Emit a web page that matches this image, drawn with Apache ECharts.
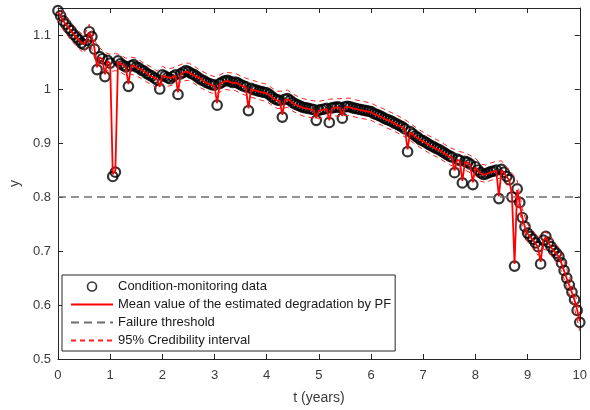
<!DOCTYPE html>
<html>
<head>
<meta charset="utf-8">
<script src="https://cdn.jsdelivr.net/npm/echarts@6/dist/echarts.min.js"></script>
<style>html,body{margin:0;padding:0;background:#fff;}#c{width:590px;height:410px;}</style>
</head>
<body>
<div id="c"></div>
<script>
// Condition-monitoring data, sampled every 0.05 years from t = 0 to t = 10
const tStep = 0.05;
const monitorY = [
1.145,1.136,1.126,1.120,1.113,1.108,1.101,1.096,1.091,1.085,
1.082,1.090,1.106,1.097,1.074,1.036,1.060,1.056,1.023,1.053,
1.048,0.838,0.846,1.052,1.047,1.044,1.041,1.005,1.043,1.045,
1.041,1.039,1.035,1.033,1.029,1.026,1.024,1.020,1.017,1.000,
1.026,1.024,1.021,1.019,1.023,1.026,0.990,1.028,1.031,1.034,
1.032,1.029,1.027,1.024,1.020,1.017,1.015,1.012,1.010,1.008,
1.007,0.970,1.010,1.013,1.015,1.016,1.014,1.012,1.013,1.011,
1.008,1.006,1.004,0.960,1.001,0.999,0.998,0.996,0.995,0.994,
0.993,0.990,0.986,0.982,0.980,0.979,0.948,0.981,0.982,0.979,
0.975,0.972,0.970,0.968,0.966,0.965,0.964,0.963,0.962,0.942,
0.961,0.962,0.963,0.964,0.938,0.965,0.966,0.967,0.966,0.946,
0.967,0.968,0.967,0.965,0.964,0.963,0.962,0.961,0.960,0.959,
0.958,0.955,0.953,0.951,0.949,0.946,0.944,0.942,0.940,0.937,
0.935,0.932,0.930,0.926,0.884,0.921,0.917,0.913,0.910,0.906,
0.904,0.901,0.898,0.895,0.893,0.890,0.888,0.885,0.882,0.879,
0.876,0.874,0.845,0.870,0.868,0.826,0.866,0.864,0.861,0.823,
0.856,0.850,0.845,0.842,0.843,0.845,0.847,0.848,0.850,0.797,
0.851,0.846,0.838,0.832,0.800,0.672,0.815,0.790,0.762,0.745,
0.733,0.727,0.722,0.715,0.708,0.676,0.720,0.727,0.716,0.708,
0.701,0.696,0.690,0.678,0.664,0.650,0.637,0.624,0.610,0.590,
0.568
];
// Mean of the PF estimate, same 0.05-year grid
const meanY = [
1.143,1.135,1.127,1.119,1.114,1.107,1.102,1.095,1.091,1.086,
1.083,1.091,1.104,1.096,1.075,1.040,1.059,1.055,1.027,1.052,
1.047,0.842,0.849,1.051,1.046,1.045,1.040,1.009,1.042,1.044,
1.040,1.038,1.036,1.032,1.030,1.025,1.023,1.021,1.018,1.004,
1.025,1.023,1.022,1.020,1.022,1.025,0.994,1.027,1.030,1.033,
1.031,1.028,1.026,1.023,1.021,1.018,1.014,1.011,1.009,1.007,
1.006,0.974,1.009,1.012,1.014,1.015,1.013,1.011,1.012,1.010,
1.007,1.005,1.003,0.964,1.000,0.998,0.997,0.995,0.994,0.993,
0.992,0.989,0.985,0.981,0.979,0.978,0.952,0.980,0.981,0.978,
0.974,0.971,0.969,0.967,0.965,0.964,0.963,0.962,0.961,0.946,
0.960,0.961,0.962,0.963,0.942,0.964,0.965,0.966,0.965,0.950,
0.966,0.967,0.966,0.964,0.963,0.962,0.961,0.960,0.959,0.958,
0.957,0.954,0.952,0.950,0.948,0.945,0.943,0.941,0.939,0.936,
0.934,0.931,0.929,0.925,0.888,0.920,0.916,0.912,0.909,0.905,
0.903,0.900,0.897,0.894,0.892,0.889,0.887,0.884,0.881,0.878,
0.875,0.873,0.849,0.869,0.867,0.830,0.865,0.863,0.860,0.827,
0.855,0.849,0.844,0.841,0.842,0.844,0.846,0.847,0.849,0.801,
0.850,0.845,0.837,0.831,0.804,0.676,0.813,0.788,0.761,0.744,
0.732,0.726,0.721,0.714,0.707,0.680,0.719,0.726,0.715,0.707,
0.700,0.695,0.689,0.677,0.663,0.649,0.636,0.623,0.609,0.591,
0.570
];
// 95% credibility interval bounds, sampled every 0.1 years
const ciStep = 0.1;
const ciUpper = [
1.161,1.142,1.129,1.117,1.107,1.098,1.120,1.090,1.076,1.068,
1.064,1.066,1.063,1.057,1.059,1.057,1.051,1.045,1.040,1.033,
1.042,1.037,1.039,1.043,1.047,1.048,1.043,1.036,1.031,1.026,
1.023,1.026,1.031,1.030,1.029,1.024,1.020,1.017,1.014,1.011,
1.009,1.002,0.996,0.996,0.998,0.991,0.986,0.982,0.980,0.978,
0.977,0.979,0.981,0.982,0.982,0.983,0.983,0.980,0.978,0.976,
0.974,0.969,0.965,0.960,0.956,0.951,0.946,0.940,0.933,0.926,
0.920,0.914,0.909,0.904,0.898,0.892,0.888,0.884,0.882,0.877,
0.872,0.861,0.859,0.863,0.866,0.867,0.854,0.844,0.831,0.778,
0.749,0.738,0.724,0.736,0.732,0.717,0.706,0.680,0.653,0.626,
0.584
];
const ciLower = [
1.129,1.110,1.097,1.085,1.075,1.066,1.090,1.058,1.044,1.036,
1.032,1.034,1.031,1.025,1.027,1.025,1.019,1.013,1.008,1.001,
1.010,1.005,1.007,1.011,1.015,1.016,1.011,1.004,0.999,0.994,
0.991,0.994,0.999,0.998,0.997,0.992,0.988,0.985,0.982,0.979,
0.977,0.970,0.964,0.964,0.966,0.959,0.954,0.950,0.948,0.946,
0.945,0.947,0.949,0.950,0.950,0.951,0.951,0.948,0.946,0.944,
0.942,0.937,0.933,0.928,0.924,0.919,0.914,0.908,0.901,0.894,
0.888,0.882,0.877,0.872,0.866,0.860,0.856,0.852,0.850,0.845,
0.840,0.829,0.827,0.831,0.834,0.835,0.822,0.812,0.799,0.746,
0.717,0.706,0.692,0.704,0.700,0.685,0.674,0.648,0.621,0.594,
0.552
];
const failureThreshold = 0.8;
const xTicks = [0,1,2,3,4,5,6,7,8,9,10];
const yTicks = [0.5,0.6,0.7,0.8,0.9,1,1.1];
const legendNames = ['Condition-monitoring data','Mean value of the estimated degradation by PF','Failure threshold','95% Credibility interval'];

const pair = (arr, step) => arr.map((v, i) => [+(i * step).toFixed(3), v]);

const axisColor = '#262626';
const labelColor = '#3a3a3a';
const font = '"Liberation Sans", Arial, sans-serif';

function xAx(pos, showLabel) {
  return {
    type: 'value', position: pos, min: xTicks[0], max: xTicks[xTicks.length-1], interval: 1,
    axisLine: {show: true, lineStyle: {color: axisColor, width: 1}},
    axisTick: {show: true, inside: true, length: 5, lineStyle: {color: axisColor}},
    axisLabel: {show: showLabel, color: labelColor, fontSize: 13, fontFamily: font, margin: 10},
    splitLine: {show: false},
    name: showLabel ? 't (years)' : '', nameLocation: 'middle', nameGap: 32,
    nameTextStyle: {color: labelColor, fontSize: 14, fontFamily: font}
  };
}
function yAx(pos, showLabel) {
  return {
    type: 'value', position: pos, min: 0.5, max: 1.15, interval: 0.1,
    axisLine: {show: true, onZero: false, lineStyle: {color: axisColor, width: 1}},
    axisTick: {show: true, inside: true, length: 5, lineStyle: {color: axisColor},
      customValues: yTicks},
    axisLabel: {show: showLabel, color: labelColor, fontSize: 13, fontFamily: font, margin: 7,
      customValues: yTicks,
      formatter: v => String(+(+v).toFixed(1))},
    splitLine: {show: false},
    name: showLabel ? 'y' : '', nameLocation: 'middle', nameGap: 35,
    nameTextStyle: {color: labelColor, fontSize: 14, fontFamily: font}
  };
}

const hideSym = {opacity: 0};
const chart = echarts.init(document.getElementById('c'), null, {renderer: 'canvas'});
chart.setOption({
  animation: false,
  backgroundColor: '#fff',
  grid: {left: 52, right: 7, top: 8, bottom: 48},
  xAxis: [xAx('bottom', true), xAx('top', false)],
  yAxis: [yAx('left', true), yAx('right', false)],
  legend: {
    show: true, orient: 'vertical', left: 62, top: 275,
    backgroundColor: '#fff', borderColor: axisColor, borderWidth: 1,
    padding: [4, 4, 3, 8], itemWidth: 42, itemHeight: 9, itemGap: 3, itemTextGap: 5,
    selectedMode: false, z: 10,
    textStyle: {color: '#1a1a1a', fontSize: 13, fontFamily: font, lineHeight: 15},
    data: [
      {name: legendNames[0], icon: 'circle', itemStyle: {color: '#fff', borderColor: '#000', borderWidth: 1.6}},
      {name: legendNames[1], itemStyle: hideSym},
      {name: legendNames[2], itemStyle: hideSym},
      {name: legendNames[3], itemStyle: hideSym}
    ]
  },
  series: [
    {
      name: legendNames[0], type: 'scatter', data: pair(monitorY, tStep),
      symbol: 'circle', symbolSize: 9.5,
      itemStyle: {color: 'rgba(0,0,0,0)', borderColor: '#000', borderWidth: 2.2}, z: 2
    },
    {
      name: legendNames[1], type: 'line', data: pair(meanY, tStep), symbol: 'none',
      lineStyle: {color: '#ff0000', width: 1.8}, itemStyle: {color: '#ff0000'}, z: 4
    },
    {
      name: legendNames[2], type: 'line', data: [[0, failureThreshold], [10, failureThreshold]], symbol: 'none',
      lineStyle: {color: '#6e6e6e', width: 1.3, type: [8, 5]}, itemStyle: {color: '#444'}, z: 3
    },
    {
      name: legendNames[3], type: 'line', data: pair(ciUpper, ciStep), symbol: 'none',
      lineStyle: {color: '#ff2020', width: 1, type: [5, 4]}, itemStyle: {color: '#ff2020'}, z: 5
    },
    {
      name: legendNames[3], type: 'line', data: pair(ciLower, ciStep), symbol: 'none',
      lineStyle: {color: '#ff2020', width: 1, type: [5, 4]}, itemStyle: {color: '#ff2020'}, z: 5
    }
  ]
});
</script>
</body>
</html>
